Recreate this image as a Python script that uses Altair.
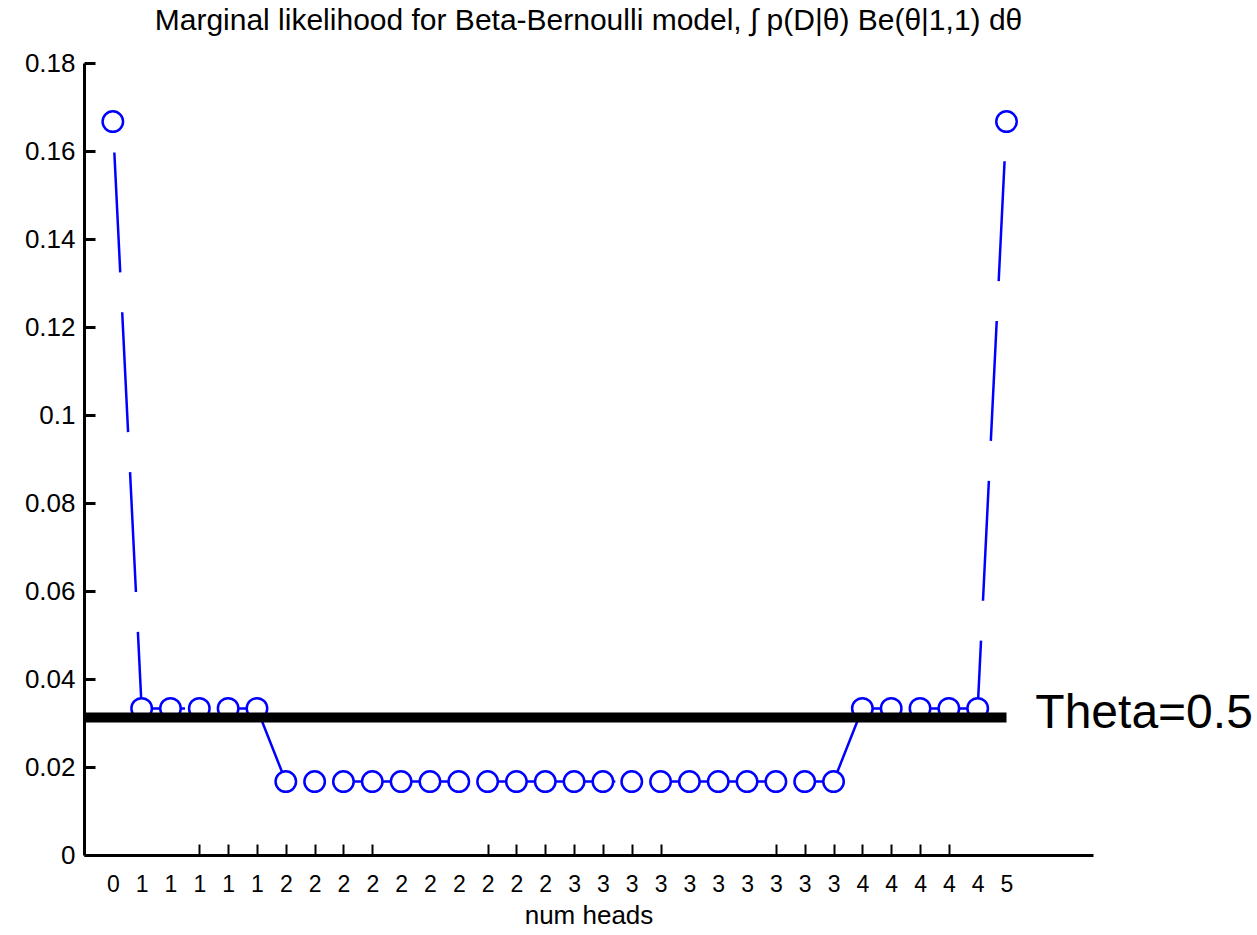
import altair as alt
import pandas as pd

# number of heads for each of the 32 sequences (sorted), and marginal likelihood
heads = [0, 1, 1, 1, 1, 1, 2, 2, 2, 2, 2, 2, 2, 2, 2, 2,
         3, 3, 3, 3, 3, 3, 3, 3, 3, 3, 4, 4, 4, 4, 4, 5]
marg_lik = [0.1667, 0.0333, 0.0333, 0.0333, 0.0333, 0.0333,
            0.0167, 0.0167, 0.0167, 0.0167, 0.0167, 0.0167, 0.0167, 0.0167, 0.0167, 0.0167,
            0.0167, 0.0167, 0.0167, 0.0167, 0.0167, 0.0167, 0.0167, 0.0167, 0.0167, 0.0167,
            0.0333, 0.0333, 0.0333, 0.0333, 0.0333, 0.1667]
seq_index = list(range(1, 33))
theta_half = 0.03125          # 1/32 : likelihood of any sequence when theta = 0.5
theta_label = "Theta=0.5"
ticked_x = [4, 5, 6, 7, 8, 9, 10, 14, 15, 16, 17, 18, 19, 20, 24, 25, 26, 27, 28, 29, 30]
y_ticks = [0, 0.02, 0.04, 0.06, 0.08, 0.1, 0.12, 0.14, 0.16, 0.18]
title_text = "Marginal likelihood for Beta-Bernoulli model, \u222b p(D|\u03b8) Be(\u03b8|1,1) d\u03b8"

df = pd.DataFrame({"idx": seq_index, "heads": heads, "lik": marg_lik})
ref_df = pd.DataFrame({"x0": [0], "x1": [32], "y": [theta_half], "xt": [33], "label": [theta_label]})

label_array = "[" + ",".join("'%d'" % h for h in heads) + "]"
ticked_array = "[" + ",".join(str(t) for t in ticked_x) + "]"

FONT = "Liberation Sans"
BLUE = "#0000FF"
PLOT_W = 1009
PLOT_H = 792
TICK_LEN = 11
DASH_GAP = 3000

x_scale = alt.Scale(domain=[0, 35], nice=False, zero=False)
y_scale = alt.Scale(domain=[0, 0.18], nice=False)

x_axis = alt.Axis(
    values=seq_index,
    tickCount=64,
    labelExpr=label_array + "[datum.value - 1]",
    title="num heads",
    ticks=False,
    grid=True,
    gridColor="black",
    gridWidth=2,
    gridDash=[TICK_LEN, DASH_GAP],
    gridDashOffset=(TICK_LEN + DASH_GAP) - (PLOT_H - TICK_LEN),
    gridOpacity={"condition": {"test": "indexof(" + ticked_array + ", datum.value) >= 0", "value": 1}, "value": 0},
    domainColor="black",
    domainWidth=3,
    labelFont=FONT,
    labelFontSize=23,
    labelColor="black",
    labelPadding=18,
    labelAngle=0,
    labelFlush=False,
    labelOverlap=False,
    titleFont=FONT,
    titleFontSize=26,
    titleFontWeight="normal",
    titleColor="black",
    titlePadding=6,
)

y_axis = alt.Axis(
    values=y_ticks,
    tickCount=20,
    format=".2~f",
    title=None,
    ticks=False,
    grid=True,
    gridColor="black",
    gridWidth=3,
    gridDash=[TICK_LEN, DASH_GAP],
    domainColor="black",
    domainWidth=3,
    labelFont=FONT,
    labelFontSize=26,
    labelColor="black",
    labelPadding=9,
    labelFlush=False,
    labelOverlap=False,
)

base = alt.Chart(df)

line = base.mark_line(color=BLUE, strokeWidth=2.5, strokeDash=[120, 40], strokeDashOffset=129).encode(
    x=alt.X("idx:Q", scale=x_scale, axis=x_axis),
    y=alt.Y("lik:Q", scale=y_scale, axis=y_axis),
)

points = base.mark_point(shape="circle", filled=True, fill="white", fillOpacity=1,
                         stroke=BLUE, size=420, strokeWidth=2.5, opacity=1).encode(
    x=alt.X("idx:Q", scale=x_scale),
    y=alt.Y("lik:Q", scale=y_scale),
)

rule = alt.Chart(ref_df).mark_rule(color="black", strokeWidth=10).encode(
    x=alt.X("x0:Q", scale=x_scale),
    x2="x1:Q",
    y=alt.Y("y:Q", scale=y_scale),
)

label = alt.Chart(ref_df).mark_text(
    align="left", baseline="middle", font=FONT, fontSize=48, color="black", clip=False, dy=-4
).encode(
    x=alt.X("xt:Q", scale=x_scale),
    y=alt.Y("y:Q", scale=y_scale),
    text="label:N",
)

chart = alt.layer(line, points, rule, label).properties(
    width=PLOT_W,
    height=PLOT_H,
    autosize=alt.AutoSizeParams(type="none"),
    padding={"left": 84, "top": 63, "right": 164, "bottom": 80},
    title=alt.TitleParams(
        text=title_text,
        font=FONT,
        fontSize=30,
        fontWeight="normal",
        color="black",
        anchor="middle",
        offset=14,
    ),
    background="white",
).configure_view(strokeWidth=0)

chart.save("out.html", embed_options={"renderer": "svg", "actions": False})
